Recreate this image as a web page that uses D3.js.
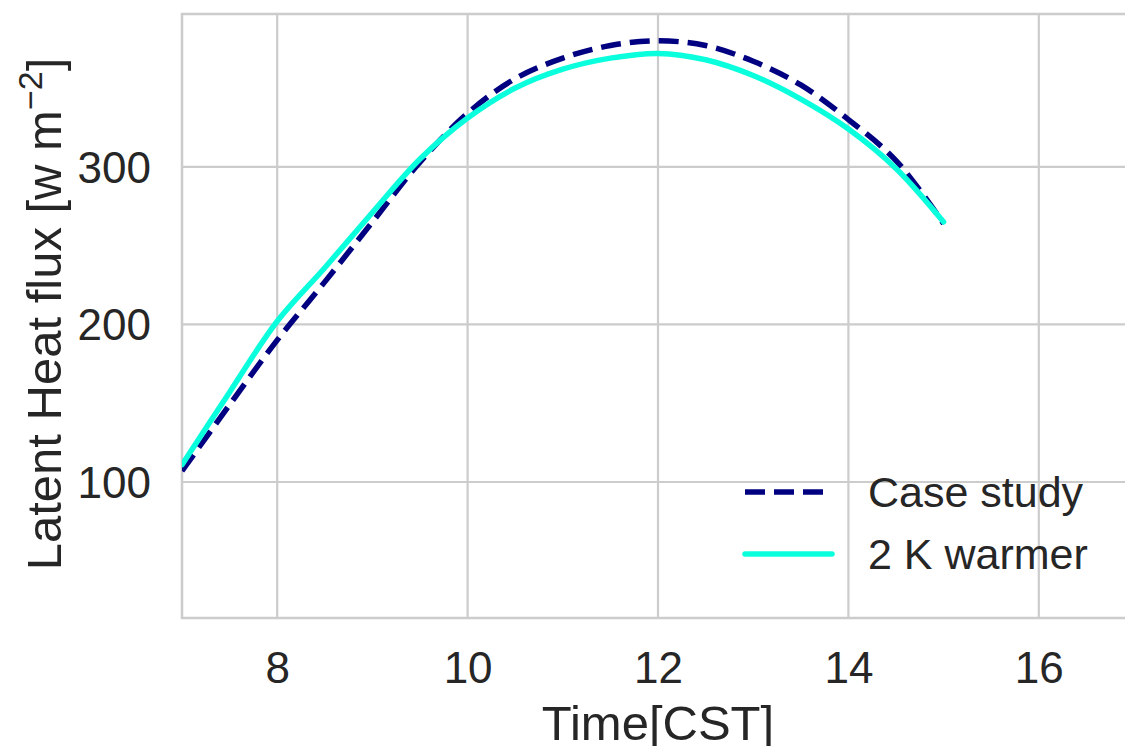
<!DOCTYPE html>
<html><head><meta charset="utf-8">
<script src="https://cdn.jsdelivr.net/npm/d3@7"></script>
<style>body{margin:0;background:#fff;} svg{display:block;font-family:"Liberation Sans",Arial,sans-serif;}</style>
</head><body>
<script>
const times = [7,7.5,8,8.5,9,9.5,10,10.5,11,11.5,12,12.5,13,13.5,14,14.5,15];
const caseStudy = [107,149,190,227,265,303,334,356,369,377,380,377,367,352,330,304,264];
const warmer = [111,157,202,236,271,305,331,350,362,369,372,368,358,343,324,299,265];
const xTicks = [8,10,12,14,16];
const yTicks = [100,200,300];
const seriesNames = ["Case study","2 K warmer"];

const W=1125,H=746;
const m={left:182,top:14,right:1134,bottom:618};
const svg=d3.select("body").append("svg").attr("width",W).attr("height",H);
const x=d3.scaleLinear().domain([7,17]).range([m.left,m.right]);
const y=d3.scaleLinear().domain([13.7,397]).range([m.bottom,m.top]);
const grid="#cccccc";
const g=svg.append("g");
g.selectAll(".vg").data(xTicks).join("line").attr("x1",d=>x(d)).attr("x2",d=>x(d)).attr("y1",m.top).attr("y2",m.bottom).attr("stroke",grid).attr("stroke-width",2.2);
g.selectAll(".hg").data(yTicks).join("line").attr("x1",m.left).attr("x2",m.right).attr("y1",d=>y(d)).attr("y2",d=>y(d)).attr("stroke",grid).attr("stroke-width",2.2);
g.append("rect").attr("x",m.left).attr("y",m.top).attr("width",m.right-m.left).attr("height",m.bottom-m.top).attr("fill","none").attr("stroke",grid).attr("stroke-width",2.5);
const xa=svg.append("g").attr("transform",`translate(0,${m.bottom})`).call(d3.axisBottom(x).tickValues(xTicks).tickSize(0).tickPadding(0).tickFormat(d3.format("d")));
xa.select(".domain").remove();
xa.selectAll("text").attr("font-size",44).attr("fill","#262626").attr("y",50).attr("dy","0.35em").attr("font-family","Liberation Sans, Arial, sans-serif");
const ya=svg.append("g").attr("transform",`translate(${m.left},0)`).call(d3.axisLeft(y).tickValues(yTicks).tickSize(0).tickPadding(0).tickFormat(d3.format("d")));
ya.select(".domain").remove();
ya.selectAll("text").attr("font-size",44).attr("fill","#262626").attr("x",-31).attr("dy","0.35em").attr("font-family","Liberation Sans, Arial, sans-serif");
svg.append("text").attr("x",658).attr("y",740).attr("text-anchor","middle").attr("font-size",49).attr("fill","#262626").text("Time[CST]");
const yl=svg.append("text").attr("transform",`translate(61,${(m.top+m.bottom)/2-2}) rotate(-90)`).attr("text-anchor","middle").attr("font-size",49).attr("fill","#262626");
yl.append("tspan").text("Latent Heat flux [w m");
yl.append("tspan").attr("dy",-19).attr("font-size",34).text("\u22122");
yl.append("tspan").attr("dy",19).text("]");
svg.append("clipPath").attr("id","c").append("rect").attr("x",m.left).attr("y",m.top).attr("width",m.right-m.left).attr("height",m.bottom-m.top);
const line=d3.line().x((d,i)=>x(times[i])).y(d=>y(d)).curve(d3.curveCatmullRom.alpha(0.5));
const navy="#000080", cyan="#0affdc";
svg.append("path").attr("d",line(caseStudy)).attr("fill","none").attr("stroke",navy).attr("stroke-width",5.5).attr("stroke-dasharray","20,9").attr("clip-path","url(#c)");
svg.append("path").attr("d",line(warmer)).attr("fill","none").attr("stroke",cyan).attr("stroke-width",5.5).attr("stroke-linecap","round").attr("clip-path","url(#c)");
const leg=svg.append("g");
const ly=[492,554];
leg.append("line").attr("x1",745).attr("x2",832).attr("y1",ly[0]).attr("y2",ly[0]).attr("stroke",navy).attr("stroke-width",5.5).attr("stroke-dasharray","20,9");
leg.append("line").attr("x1",745).attr("x2",832).attr("y1",ly[1]).attr("y2",ly[1]).attr("stroke",cyan).attr("stroke-width",5.5).attr("stroke-linecap","round");
leg.selectAll("text.l").data(seriesNames).join("text").attr("x",868).attr("y",(d,i)=>ly[i]).attr("dy","0.35em").attr("font-size",43).attr("fill","#262626").text(d=>d);
</script>
</body></html>
